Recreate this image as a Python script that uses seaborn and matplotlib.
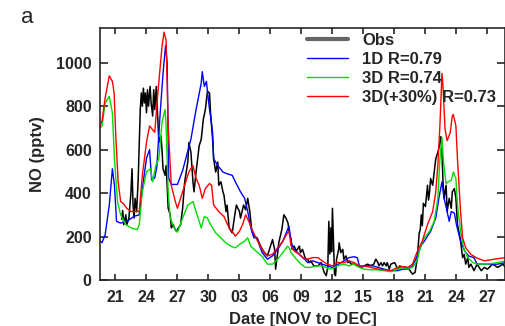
import matplotlib
matplotlib.use("Agg")
import matplotlib.pyplot as plt
import seaborn as sns

# NO mixing ratio (pptv), x = day counted from Nov 1 (Dec 1 = 31)
obs_day = [21.6, 21.7, 21.8, 22.0, 22.1, 22.3, 22.5, 22.6, 22.7, 22.8, 22.9, 23.05, 23.2, 23.3, 23.4,
           23.5, 23.6, 23.7, 23.8, 23.9, 24.0, 24.1, 24.2, 24.35, 24.45, 24.6, 24.7, 24.8, 24.95, 25.1,
           25.2, 25.4, 25.5, 25.6, 25.8, 25.9, 26.0, 26.1, 26.3, 26.4, 26.6, 26.7, 26.9, 27.0, 27.3,
           27.5, 27.7, 28.0, 28.1, 28.3, 28.5, 28.6, 28.8, 29.1, 29.3, 29.5, 29.7, 29.9, 30.1, 30.2,
           30.4, 30.5, 30.7, 30.9, 31.0, 31.2, 31.4, 31.5, 31.7, 31.8, 32.0, 32.2, 32.3, 32.5, 32.7,
           33.0, 33.1, 33.4, 33.6, 33.8, 34.0, 34.2, 34.4, 34.7, 35.0, 35.4, 35.7, 35.9, 36.0, 36.2,
           36.4, 36.5, 36.7, 36.8, 37.1, 37.3, 37.5, 37.7, 37.8, 38.0, 38.1, 38.3, 38.5, 38.6, 38.8,
           38.9, 39.1, 39.3, 39.4, 39.6, 39.75, 39.9, 40.2, 40.6, 40.9, 41.2, 41.4, 41.55, 41.65, 41.75,
           41.85, 41.92, 42.0, 42.1, 42.2, 42.3, 42.4, 42.6, 42.65, 42.8, 43.0, 43.1, 43.3, 43.5, 43.6,
           43.8, 44.1, 44.4, 44.75, 45.07, 45.4, 45.7, 46.0, 46.2, 46.4, 46.5, 46.7, 46.85, 47.0, 47.2,
           47.3, 47.5, 47.65, 48.0, 48.1, 48.3, 48.5, 48.8, 49.1, 49.4, 49.75, 50.0, 50.2, 50.4, 50.5,
           50.6, 50.7, 50.8, 51.0, 51.2, 51.3, 51.4, 51.5, 51.7, 51.85, 52.0, 52.2, 52.35, 52.5, 52.6,
           52.7, 52.8, 53.0, 53.1, 53.3, 53.5, 53.6, 53.8, 53.95, 54.1, 54.3, 54.4, 54.6, 54.75, 54.9,
           55.1, 55.2, 55.4, 55.7, 56.0, 56.4, 56.7, 57.0, 57.5, 58.0, 58.5, 58.7]
obs_no = [280, 320, 255, 300, 255, 285, 406, 512, 345, 285, 376, 315, 467, 618, 785,
          861, 800, 883, 815, 861, 770, 876, 800, 891, 815, 755, 876, 785, 891, 739,
          633, 663, 603, 512, 482, 527, 436, 330, 300, 240, 255, 240, 224, 232, 255,
          330, 452, 543, 633, 588, 452, 406, 497, 618, 648, 739, 785, 868, 861, 770,
          648, 558, 497, 543, 436, 452, 406, 391, 315, 345, 240, 224, 217, 285, 345,
          315, 285, 345, 323, 376, 315, 224, 202, 194, 160, 126, 111, 141, 156, 186,
          141, 50, 126, 171, 232, 300, 285, 262, 224, 186, 141, 156, 133, 141, 156,
          126, 141, 111, 96, 96, 80, 88, 65, 65, 80, 35, 20, 60, 270, 120,
          240, 130, 330, 180, 27, 20, 96, 141, 171, 126, 141, 96, 111, 80, 88,
          73, 73, 65, 58, 65, 73, 65, 73, 96, 80, 65, 80, 65, 80, 65,
          80, 50, 73, 80, 73, 50, 65, 58, 58, 50, 27, 35, 96, 217, 232,
          300, 250, 353, 338, 436, 368, 406, 467, 436, 497, 558, 588, 618, 660, 588,
          452, 376, 436, 315, 376, 330, 406, 421, 376, 255, 209, 179, 103, 118, 73,
          103, 58, 73, 43, 73, 43, 58, 50, 73, 58, 73, 60]

m1d_day = [19.5, 19.7, 20.0, 20.4, 20.7, 20.9, 21.1, 21.5, 22.1, 22.8, 23.3, 23.6, 24.0, 24.3, 24.5,
           24.8, 25.0, 25.3, 25.6, 25.85, 26.0, 26.15, 26.4, 27.0, 27.5, 27.8, 28.3, 28.8, 29.3, 29.4,
           29.6, 29.8, 30.1, 30.2, 30.4, 30.5, 30.9, 31.4, 31.8, 32.3, 32.6, 33.1, 33.5, 33.8, 34.1,
           34.4, 34.7, 35.0, 35.2, 35.7, 36.2, 36.7, 37.2, 37.65, 37.8, 38.0, 38.3, 38.8, 39.3, 39.6,
           40.1, 40.6, 41.0, 41.5, 42.0, 42.5, 43.1, 43.6, 44.1, 44.4, 44.6, 45.07, 45.7, 46.4, 47.0,
           47.65, 48.3, 48.8, 49.3, 49.75, 50.2, 50.6, 50.9, 51.5, 52.0, 52.3, 52.6, 52.8, 53.1, 53.3,
           53.5, 53.8, 54.0, 54.4, 54.8, 55.2, 55.7, 56.0, 57.0, 58.0, 58.7]
m1d_no = [179, 172, 209, 345, 512, 436, 270, 262, 270, 293, 300, 420, 560, 600, 460,
          470, 520, 750, 950, 1080, 1000, 470, 440, 440, 504, 558, 648, 785, 906, 959,
          891, 914, 785, 755, 679, 558, 527, 497, 489, 482, 452, 406, 376, 315, 240,
          194, 194, 150, 126, 96, 111, 141, 179, 232, 247, 171, 141, 118, 96, 80,
          88, 80, 73, 65, 58, 70, 88, 103, 107, 103, 65, 62, 68, 58, 50,
          43, 43, 50, 50, 65, 110, 160, 179, 224, 285, 376, 452, 376, 315, 270,
          315, 308, 255, 179, 133, 110, 103, 73, 73, 73, 80]

m3d_day = [19.5, 19.7, 20.0, 20.4, 20.7, 20.9, 21.2, 21.5, 22.0, 22.5, 23.1, 23.3, 23.6, 24.0, 24.4,
           24.6, 24.9, 25.2, 25.5, 25.8, 25.9, 26.1, 26.3, 26.7, 27.0, 27.5, 28.0, 28.5, 28.8, 29.3,
           29.6, 29.9, 30.2, 30.7, 31.2, 31.7, 32.2, 32.6, 33.0, 33.5, 33.8, 34.1, 34.6, 35.2, 35.7,
           36.2, 36.7, 37.2, 37.65, 37.8, 38.0, 38.5, 38.95, 39.4, 39.9, 40.4, 40.9, 41.4, 41.85, 42.5,
           43.1, 43.6, 44.1, 44.6, 45.07, 45.7, 46.4, 47.0, 47.65, 48.3, 48.8, 49.3, 49.75, 50.2, 50.5,
           50.9, 51.4, 51.85, 52.2, 52.4, 52.6, 52.75, 53.0, 53.2, 53.5, 53.7, 53.95, 54.1, 54.4, 54.7,
           55.1, 55.6, 56.0, 57.0, 58.0, 58.7]
m3d_no = [700, 709, 815, 845, 770, 558, 360, 300, 255, 240, 232, 255, 406, 497, 512,
          452, 527, 558, 724, 785, 709, 406, 285, 240, 220, 285, 345, 361, 315, 240,
          292, 285, 255, 217, 194, 170, 155, 148, 164, 179, 194, 155, 133, 108, 73,
          73, 96, 126, 156, 149, 126, 96, 73, 58, 58, 65, 65, 58, 50, 65,
          73, 65, 73, 58, 50, 47, 47, 43, 38, 50, 58, 50, 58, 90, 150,
          194, 224, 270, 376, 558, 656, 543, 444, 452, 459, 497, 467, 345, 224, 148,
          103, 80, 73, 73, 80, 88]

m3d30_day = [19.5, 19.7, 20.0, 20.4, 20.7, 20.87, 21.03, 21.26, 21.5, 21.76, 22.1, 22.5, 23.3, 23.6, 24.0,
             24.3, 24.8, 25.1, 25.5, 25.7, 25.9, 26.1, 26.4, 26.8, 27.0, 27.3, 27.8, 28.1, 28.5, 28.8,
             29.1, 29.4, 29.7, 30.1, 30.3, 30.5, 31.0, 31.5, 32.0, 32.3, 32.6, 33.0, 33.3, 33.6, 33.9,
             34.3, 34.75, 35.2, 35.7, 36.2, 36.7, 37.2, 37.65, 37.8, 38.0, 38.3, 38.8, 39.3, 39.6, 40.1,
             40.6, 41.0, 41.5, 42.0, 42.5, 43.1, 43.6, 44.1, 44.6, 45.07, 45.7, 46.4, 47.0, 47.65, 48.3,
             48.8, 49.3, 49.75, 50.2, 50.7, 51.2, 51.7, 52.0, 52.2, 52.4, 52.6, 52.7, 52.9, 53.1, 53.4,
             53.6, 53.7, 53.95, 54.1, 54.4, 54.6, 54.9, 55.4, 55.9, 56.7, 57.7, 58.7]
m3d30_no = [710, 733, 839, 940, 914, 860, 663, 451, 360, 352, 330, 315, 315, 482, 633,
            709, 680, 860, 1073, 1141, 1103, 709, 436, 360, 330, 376, 452, 497, 527, 467,
            436, 376, 421, 444, 436, 345, 315, 292, 240, 224, 202, 224, 255, 300, 270,
            224, 179, 141, 111, 118, 149, 179, 217, 224, 156, 133, 118, 96, 96, 103,
            103, 88, 73, 65, 80, 80, 88, 80, 65, 65, 58, 50, 47, 43, 58,
            62, 58, 73, 130, 180, 255, 315, 406, 527, 709, 951, 891, 694, 641, 679,
            755, 762, 709, 558, 315, 194, 148, 118, 103, 88, 96, 103]

labels = ["Obs", "1D R=0.79", "3D R=0.74", "3D(+30%) R=0.73"]
colors = ["black", "#0000ff", "#00dd00", "#ff0000"]
tick_days = [21, 24, 27, 30, 33, 36, 39, 42, 45, 48, 51, 54, 57]
tick_labels = ["21", "24", "27", "30", "03", "06", "09", "12", "15", "18", "21", "24", "27"]
y_ticks = [0, 200, 400, 600, 800, 1000]

sns.set_style("ticks")
plt.rcParams["font.family"] = ["Liberation Sans", "DejaVu Sans"]
plt.rcParams["font.weight"] = "bold"
plt.rcParams["axes.linewidth"] = 1.2

fig = plt.figure(figsize=(5.06, 3.26), dpi=100)
ax = fig.add_axes([0.1976, 0.1411, 0.8004, 0.773])

series = [(obs_day, obs_no), (m1d_day, m1d_no), (m3d_day, m3d_no), (m3d30_day, m3d30_no)]
for (d, v), lab, c in zip(series, labels, colors):
    sns.lineplot(x=d, y=v, color=c, lw=1.1 if lab == "Obs" else 1.0,
                 label=lab, estimator=None, ax=ax)

ax.set_xlim(19.5, 58.7)
ax.set_ylim(0, 1160)
ax.set_xticks(tick_days, tick_labels)
ax.set_yticks(y_ticks)
ax.tick_params(direction="in", top=True, right=True, width=1.2, labelsize=11.5)
ax.tick_params(axis="x", length=4, pad=7)
ax.tick_params(axis="y", length=5.5, pad=6)
ax.set_xlabel("Date [NOV to DEC]", fontsize=12, fontweight="bold", labelpad=5)
ax.set_ylabel("NO (pptv)", fontsize=12, fontweight="bold", labelpad=8)

leg = ax.legend(loc="upper left", bbox_to_anchor=(0.511, 0.982), frameon=False,
                fontsize=12, handlelength=2.45, handletextpad=0.85,
                labelspacing=0.24, borderpad=0, borderaxespad=0)
leg.get_lines()[0].set_color("0.4")
leg.get_lines()[0].set_linewidth(3)

fig.text(0.041, 0.9285, "a", fontsize=16, fontweight="normal", va="baseline")

fig.savefig("out.png", dpi=100)
